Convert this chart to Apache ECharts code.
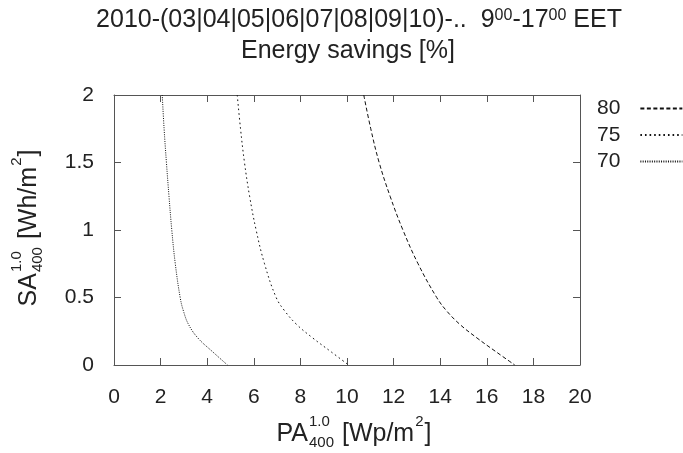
<!DOCTYPE html>
<html><head><meta charset="utf-8">
<script src="https://cdn.jsdelivr.net/npm/echarts@6/dist/echarts.min.js"></script>
<style>html,body{margin:0;padding:0;background:#fff}#c{width:683px;height:453px}</style>
</head><body><div id="c"></div>
<script>
const FONT = '"Liberation Sans", Arial, Helvetica, sans-serif';
const INK = '#222';

// ---- data ----
const seriesNames = ['80', '75', '70'];
const saLevels = [2, 1.75, 1.5, 1.25, 1, 0.75, 0.5, 0.4, 0.3, 0.2, 0.1, 0];
const pa80 = [10.72, 11.02, 11.38, 11.85, 12.40, 13.05, 13.85, 14.28, 14.85, 15.58, 16.38, 17.20];
const pa75 = [5.29, 5.43, 5.60, 5.82, 6.10, 6.46, 6.96, 7.33, 7.84, 8.53, 9.30, 10.07];
const pa70 = [2.07, 2.15, 2.25, 2.36, 2.48, 2.63, 2.84, 2.98, 3.20, 3.60, 4.22, 4.87];
const xTickLabels = [0, 2, 4, 6, 8, 10, 12, 14, 16, 18, 20];
const yTickLabels = [0, 0.5, 1, 1.5, 2];

const paSets = [pa80, pa75, pa70];
const dashes = [[4, 2.5], [1.6, 3], [1, 1.3]];

const ctx = document.createElement('canvas').getContext('2d');
function tw(t, size) { ctx.font = size + 'px ' + FONT; return ctx.measureText(t).width; }
function txt(t, x, y, size) {
  return { type: 'text', x: x, y: y, style: { text: t, fontSize: size, fontFamily: FONT, fill: INK,
    textAlign: 'left', align: 'left', textVerticalAlign: 'middle', verticalAlign: 'middle' } };
}
function scriptText(parts, cx, cy, rot, big, small, supOff, subOff) {
  let x = 0; const els = [];
  parts.forEach(p => {
    if (p.t !== undefined) { els.push(txt(p.t, x, 0, big)); x += tw(p.t, big); }
    else {
      let w = 0;
      if (p.sup) { els.push(txt(p.sup, x + 1, supOff, small)); w = Math.max(w, tw(p.sup, small)); }
      if (p.sub) { els.push(txt(p.sub, x + 1, subOff, small)); w = Math.max(w, tw(p.sub, small)); }
      x += w + 2;
    }
  });
  els.forEach(e => { e.x -= x / 2; });
  return { type: 'group', x: cx, y: cy, rotation: rot, children: els };
}

const chart = echarts.init(document.getElementById('c'), null, { renderer: 'canvas' });

const axisCommon = {
  axisLine: { show: true, onZero: false, lineStyle: { color: '#555', width: 1 } },
  axisTick: { show: true, inside: true, length: 7, lineStyle: { color: '#555' } },
  splitLine: { show: false }
};
const xCfg = { type: 'value', min: xTickLabels[0], max: xTickLabels[xTickLabels.length - 1], interval: xTickLabels[1] - xTickLabels[0] };
const yCfg = { type: 'value', min: yTickLabels[0], max: yTickLabels[yTickLabels.length - 1], interval: yTickLabels[1] - yTickLabels[0] };

const option = {
  animation: false,
  backgroundColor: '#fff',
  grid: { left: 114, right: 103, top: 95, bottom: 88, containLabel: false },
  xAxis: [
    Object.assign({}, xCfg, axisCommon, { position: 'bottom',
      axisLabel: { margin: 22, fontSize: 21, fontFamily: FONT, color: INK } }),
    Object.assign({}, xCfg, axisCommon, { position: 'top', axisLabel: { show: false } })
  ],
  yAxis: [
    Object.assign({}, yCfg, axisCommon, { position: 'left',
      axisLabel: { margin: 20, fontSize: 21, fontFamily: FONT, color: INK } }),
    Object.assign({}, yCfg, axisCommon, { position: 'right', axisLabel: { show: false } })
  ],
  legend: {
    orient: 'vertical', left: 597, top: 98, align: 'right', padding: 0,
    itemWidth: 42, itemHeight: 20, itemGap: 5.5,
    itemStyle: { opacity: 0 },
    textStyle: { fontSize: 21, fontFamily: FONT, color: INK, padding: [0, 15, 0, 0] },
    data: seriesNames
  },
  series: seriesNames.map((name, i) => ({
    name: name, type: 'line', xAxisIndex: 0, yAxisIndex: 0,
    symbol: 'circle', showSymbol: false, smooth: 0.4,
    lineStyle: { color: '#111', width: 1, type: dashes[i] },
    data: paSets[i].map((v, k) => [v, saLevels[k]])
  })),
  graphic: [
    { type: 'text', x: 359, y: 20, style: {
        text: '2010-(03|04|05|06|07|08|09|10)-..  9{s|00}-17{s|00} EET',
        fontSize: 25, fontFamily: FONT, fill: INK,
        textAlign: 'center', align: 'center', textVerticalAlign: 'middle', verticalAlign: 'middle',
        rich: { s: { fontSize: 16, fontFamily: FONT, verticalAlign: 'top', fill: INK } } } },
    { type: 'text', x: 348, y: 51, style: { text: 'Energy savings [%]', fontSize: 25, fontFamily: FONT, fill: INK,
        textAlign: 'center', align: 'center', textVerticalAlign: 'middle', verticalAlign: 'middle' } },
    scriptText([{ t: 'PA' }, { sup: '1.0', sub: '400' }, { t: ' [Wp/m' }, { sup: '2' }, { t: ']' }],
      354, 434, 0, 25, 15, -12, 9),
    scriptText([{ t: 'SA' }, { sup: '1.0', sub: '400' }, { t: ' [Wh/m' }, { sup: '2' }, { t: ']' }],
      29, 228, Math.PI / 2, 25, 15, -12, 9)
  ]
};
chart.setOption(option);
</script></body></html>
